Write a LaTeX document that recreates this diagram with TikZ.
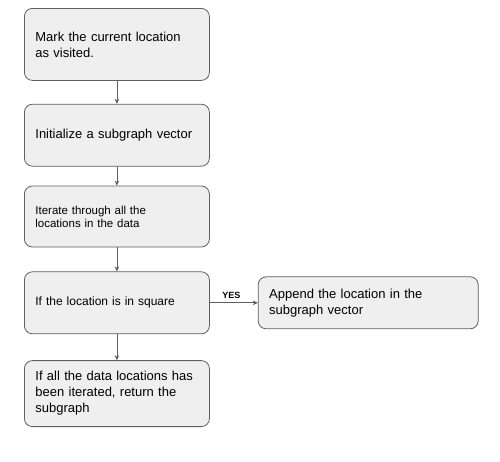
\documentclass[tikz,border=0pt]{standalone}
\usepackage{fontspec}
\setmainfont{Liberation Sans}
\usetikzlibrary{arrows.meta,positioning}
\definecolor{boxfill}{HTML}{EFEFEF}
\definecolor{boxline}{HTML}{5F5F5F}

\begin{document}
\begin{tikzpicture}[->,>={Stealth[length=5pt,width=4.5pt]},auto,node distance=23pt,
                    x=1pt,y=1pt,line width=0.8pt,
                    main node/.style={rectangle,rounded corners=8pt,draw=boxline,fill=boxfill,
                      text width=163pt,inner xsep=11pt,inner ysep=0pt,align=left,
                      font=\fontsize{13}{16}\selectfont}]
  \useasboundingbox (0,0) rectangle (500,-461);
  %flow%
  \node[main node,anchor=north west,minimum height=72pt] (1) at (24,-8) {\mbox{Mark the current location}\\as visited.};
  \node[main node,minimum height=62pt] (2) [below=of 1] {\mbox{Initialize a subgraph vector}};
  \node[main node,minimum height=61pt,font=\fontsize{11.5}{13}\selectfont] (3) [below=19pt of 2] {Iterate through all the\\locations in the data};
  \node[main node,minimum height=62pt,font=\fontsize{12}{14}\selectfont] (4) [below=24pt of 3] {If the location is in square};
  \node[main node,minimum height=66pt] (5) [below=26pt of 4] {\mbox{If all the data locations has}\\been iterated, return the\\subgraph};
  \node[main node,minimum height=52pt,text width=198pt] (6) [right=48pt of 4] {Append the location in the\\subgraph vector};

  \path[draw=boxline,every node/.style={font=\bfseries\fontsize{9}{10}\selectfont,inner sep=4pt}]
    (1) edge (2)
    (2) edge (3)
    (3) edge (4)
    (4) edge node [above,pos=0.45] {YES} (6)
    (4) edge (5);
\end{tikzpicture}
\end{document}
